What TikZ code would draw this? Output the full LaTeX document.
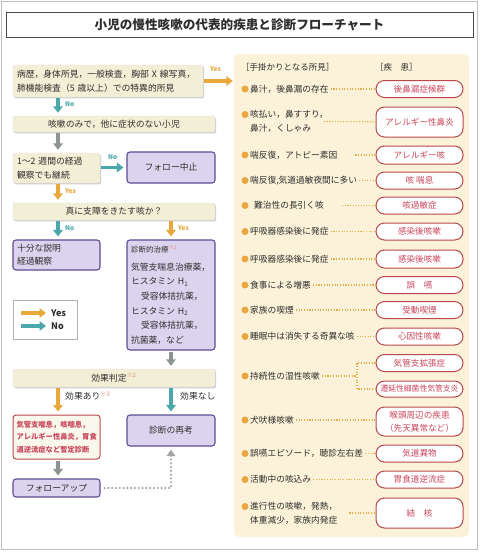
\documentclass[tikz,border=0pt]{standalone}
\usepackage{fontspec}
\setmainfont{Noto Sans CJK JP}
\usetikzlibrary{arrows.meta}
\definecolor{cream}{HTML}{F3EED6}
\definecolor{panelc}{HTML}{FCF2D9}
\definecolor{purfill}{HTML}{DCD4EE}
\definecolor{purline}{HTML}{5F4C95}
\definecolor{yesc}{HTML}{E9A83A}
\definecolor{noc}{HTML}{4BA8AA}
\definecolor{grayar}{HTML}{8E9494}
\definecolor{redline}{HTML}{B9484B}
\definecolor{redtext}{HTML}{C8465A}
\definecolor{dotc}{HTML}{E2B04A}
\definecolor{bulc}{HTML}{EBA640}
\definecolor{notec}{HTML}{E88A80}
\definecolor{txt}{HTML}{2E2E2E}
\begin{document}
\begin{tikzpicture}[x=1pt,y=-1pt,
  every node/.style={font=\fontsize{8.8}{14}\selectfont, inner sep=0pt, text=txt},
  shadowed/.style={preaction={fill=black!20, transform canvas={xshift=1pt,yshift=-1.3pt}}},
  cbox/.style={shadowed, fill=cream, draw=black!10, rounded corners=2pt},
  pbox/.style={fill=purfill, draw=purline, line width=1.1pt, rounded corners=3pt},
  rbox/.style={fill=white!55!cream, draw=redline, line width=1pt, rounded corners=3pt},
  arr/.style={line width=3.4pt, -{Triangle[width=9.5pt,length=6.5pt]}, shorten >=3pt, shorten <=1pt},
  yesar/.style={arr, draw=yesc},
  noar/.style={arr, draw=noc},
  grar/.style={arr, draw=grayar},
  yeslab/.style={anchor=west, font=\fontsize{6.5}{7}\selectfont\bfseries, text=yesc},
  nolab/.style={anchor=west, font=\fontsize{6.5}{7}\selectfont\bfseries, text=noc},
  oval/.style={draw=redline, line width=1pt, fill=white, rounded corners=8.5pt, minimum width=87pt, text=redtext, align=center, font=\fontsize{8.6}{13}\selectfont},
  finding/.style={anchor=west, align=left, font=\fontsize{8.7}{14}\selectfont},
  bullet/.style={circle, fill=bulc, minimum size=7pt, inner sep=0pt},
  leader/.style={draw=dotc, line width=1.1pt, dash pattern=on 1.1pt off 1.6pt, shorten <=2pt},
]
\path[use as bounding box] (0,0) rectangle (480,552);
\fill[white] (0,0) rectangle (480,552);
\draw[black!25, line width=1pt] (1.5,1.5) rectangle (477,549);
% title
\node[draw=black!70, line width=0.9pt, fill=white, minimum width=467pt, minimum height=25pt,
  font=\fontsize{12.6}{14}\selectfont\bfseries] (title) at (239.5,24.5) {小児の慢性咳嗽の代表的疾患と診断フローチャート};
% right panel
\node[fill=panelc, rounded corners=5pt, minimum width=235pt, minimum height=483pt] (panel) at (351.5,295.5) {};
\node[anchor=west, font=\fontsize{8.5}{10}\selectfont] (h1) at (241,67) {［手掛かりとなる所見］};
\node[anchor=west, font=\fontsize{8.5}{10}\selectfont] (h2) at (375,67) {［疾　患］};

% rows
\node[bullet] (d1) at (245,89) {};
\node[finding] (f1) at (250,89) {鼻汁，後鼻漏の存在};
\node[oval, minimum height=17pt] (o1) at (419.5,89) {後鼻漏症候群};
\draw[leader] (f1) -- (o1);

\node[bullet] (d2) at (245,114.5) {};
\node[finding] (f2) at (250,121.5) {咳払い，鼻すすり，\\鼻汁，くしゃみ};
\node[oval, minimum height=30pt] (o2) at (419.5,122) {アレルギー性鼻炎};
\draw[leader] (f2.east -| 322,0) -- (o2);

\node[bullet] (d3) at (245,155) {};
\node[finding] (f3) at (250,155) {喘反復，アトピー素因};
\node[oval, minimum height=18pt] (o3) at (419.5,155) {アレルギー咳};
\draw[leader, shorten <=18pt] (f3) -- (o3);

\node[bullet] (d4) at (245,180.5) {};
\node[finding] (f4) at (250,180.5) {喘反復,気道過敏夜間に多い};
\node[oval, minimum height=17pt] (o4) at (419.5,180.5) {咳 喘息};
\draw[leader] (f4) -- (o4);

\node[bullet] (d5) at (245,205.5) {};
\node[finding] (f5) at (254,205.5) {難治性の長引く咳};
\node[oval, minimum height=17pt] (o5) at (419.5,205.5) {咳過敏症};
\draw[leader, shorten <=18pt] (f5) -- (o5);

\node[bullet] (d6) at (245,231.5) {};
\node[finding] (f6) at (250,231.5) {呼吸器感染後に発症};
\node[oval, minimum height=17pt] (o6) at (419.5,231.5) {感染後咳嗽};
\draw[leader] (f6) -- (o6);

\node[bullet] (d7) at (245,259) {};
\node[finding] (f7) at (250,259) {呼吸器感染後に発症};
\node[oval, minimum height=18pt] (o7) at (419.5,259) {感染後咳嗽};
\draw[leader] (f7) -- (o7);

\node[bullet] (d8) at (245,285) {};
\node[finding] (f8) at (250,285) {食事による増悪};
\node[oval, minimum height=17pt] (o8) at (419.5,285) {誤　嚥};
\draw[leader] (f8) -- (o8);

\node[bullet] (d9) at (245,310) {};
\node[finding] (f9) at (250,310) {家族の喫煙};
\node[oval, minimum height=17pt] (o9) at (419.5,310) {受動喫煙};
\draw[leader] (f9) -- (o9);

\node[bullet] (d10) at (245,336.5) {};
\node[finding] (f10) at (250,336.5) {睡眠中は消失する奇異な咳};
\node[oval, minimum height=17pt] (o10) at (419.5,336.5) {心因性咳嗽};
\draw[leader] (f10) -- (o10);

\node[bullet] (d11) at (245,376) {};
\node[finding] (f11) at (250,376) {持続性の湿性咳嗽};
\node[oval, minimum height=17pt] (o11a) at (419.5,363) {気管支拡張症};
\node[oval, minimum height=16pt, font=\fontsize{7.8}{10}\selectfont] (o11b) at (419.5,389) {遷延性細菌性気管支炎};
\coordinate (br) at (357,376);
\draw[leader] (f11) -- (br);
\draw[leader, shorten <=0pt] (o11a.west) -| (br |- o11b.west) -- (o11b.west);

\node[bullet] (d12) at (245,420) {};
\node[finding] (f12) at (250,420) {犬吠様咳嗽};
\node[oval, minimum height=29pt] (o12) at (419.5,421.5) {喉頭周辺の疾患\\（先天異常など）};
\draw[leader] (f12) -- (f12 -| o12.west);

\node[bullet] (d13) at (245,453.5) {};
\node[finding] (f13) at (250,453.5) {誤嚥エピソード，聴診左右差};
\node[oval, minimum height=17pt] (o13) at (419.5,453.5) {気道異物};
\draw[leader] (f13) -- (o13);

\node[bullet] (d14) at (245,479.5) {};
\node[finding] (f14) at (250,479.5) {活動中の咳込み};
\node[oval, minimum height=17pt] (o14) at (419.5,479.5) {胃食道逆流症};
\draw[leader] (f14) -- (o14);

\node[bullet] (d15) at (245,506.5) {};
\node[finding] (f15) at (250,513) {進行性の咳嗽，発熱，\\体重減少，家族内発症};
\node[oval, minimum height=30pt] (o15) at (419.5,513) {結　核};
\draw[leader, shorten <=12pt] (f15.east |- o15.west) -- (o15.west);

% left flowchart
\coordinate (cl) at (58,0);
\coordinate (cr) at (171,0);
\node[cbox, minimum width=190pt, minimum height=32pt, text width=182pt, align=left] (b1) at (108,81)
  {病歴，身体所見，一般検査，胸部 X 線写真，\\肺機能検査（5 歳以上）での特異的所見};
\node[cbox, minimum width=202pt, minimum height=16pt] (b2) at (114,124) {咳嗽のみで，他に症状のない小児};
\node[cbox, minimum width=87pt, minimum height=30pt, text width=79pt, align=left] (b3) at (56.5,168) {1～2 週間の経過\\観察でも継続};
\node[pbox, minimum width=88pt, minimum height=31pt] (b4) at (171,167.5) {フォロー中止};
\node[cbox, minimum width=202pt, minimum height=17pt] (b5) at (114,211.5) {真に支障をきたす咳か？};
\node[pbox, minimum width=87pt, minimum height=30pt, text width=79pt, align=left, font=\fontsize{8.8}{13}\selectfont] (b6) at (56.5,255) {十分な説明\\経過観察};
\node[pbox, minimum width=88pt, minimum height=110pt, text width=80pt, align=left, font=\fontsize{8.8}{14.6}\selectfont] (b7) at (171,295)
  {{\fontsize{7.5}{9}\selectfont 診断的治療\textsuperscript{\color{notec}※1}}\\[3pt]気管支喘息治療薬，\\ヒスタミン H\textsubscript{1}\\\hspace*{10pt}受容体拮抗薬，\\ヒスタミン H\textsubscript{2}\\\hspace*{10pt}受容体拮抗薬，\\抗菌薬，など};
\node[draw=black!30, fill=white, minimum width=64pt, minimum height=39pt] (legend) at (45,319.5) {};
\coordinate (ly) at (21,313);
\coordinate (ln) at (21,326);
\node[anchor=west, font=\fontsize{9}{10}\selectfont\bfseries] (lyes) at (51,313) {Yes};
\node[anchor=west, font=\fontsize{9}{10}\selectfont\bfseries] (lno) at (51,326) {No};
\draw[yesar, shorten >=5pt, shorten <=0pt] (ly) -- (lyes.west);
\draw[noar, shorten >=5pt, shorten <=0pt] (ln) -- (lno.west);
\node[cbox, minimum width=202pt, minimum height=18pt] (b8) at (114,378) {効果判定\textsuperscript{\color{notec}※2}};
\node[rbox, minimum width=87pt, minimum height=44pt, text width=80pt, align=left, text=redtext, font=\fontsize{7.3}{12.5}\selectfont\bfseries] (b9) at (56.5,437) {気管支喘息，咳喘息，\\アレルギー性鼻炎，胃食\\道逆流症など暫定診断};
\node[pbox, minimum width=88pt, minimum height=31pt] (b10) at (171,430.5) {診断の再考};
\node[pbox, minimum width=87pt, minimum height=18pt] (b11) at (56.5,488) {フォローアップ};

% connectors
\draw[yesar, shorten >=1pt] (b1.east) -- (b1.east -| panel.west);
\node[yeslab] (ly0) at (210,69) {Yes};
\draw[noar] (b1.south -| cl) -- (b2.north -| cl);
\node[nolab] (ln1) at (65,104) {No};
\draw[grar] (b2.south -| cl) -- (b3.north -| cl);
\draw[noar] (b3.east |- b4.west) -- (b4.west);
\node[nolab] (ln2) at (108,157) {No};
\draw[yesar] (b3.south -| cl) -- (b5.north -| cl);
\node[yeslab] (ly2) at (65,191) {Yes};
\draw[noar] (b5.south -| cl) -- (b6.north -| cl);
\node[nolab] (ln3) at (65,228) {No};
\draw[yesar] (b5.south -| cr) -- (b7.north -| cr);
\node[yeslab] (ly3) at (178,228) {Yes};
\draw[grar] (b7.south -| cr) -- (b8.north -| cr);
\draw[yesar] (b8.south -| cl) -- (b9.north -| cl);
\node[anchor=west] (ea) at (65,396) {効果あり\textsuperscript{\color{notec}※3}};
\draw[noar] (b8.south -| cr) -- (b10.north -| cr);
\node[anchor=west] (en) at (180,396) {効果なし};
\draw[grar] (b9.south -| cl) -- (b11.north -| cl);
\draw[draw=black!35, line width=2.4pt, dash pattern=on 0pt off 3.8pt, line cap=round,
  -{Triangle[width=8.5pt,length=6.5pt,fill=black!35]}, shorten <=4pt, shorten >=3pt] (b11.east) -| (b10.south);
\end{tikzpicture}
\end{document}
